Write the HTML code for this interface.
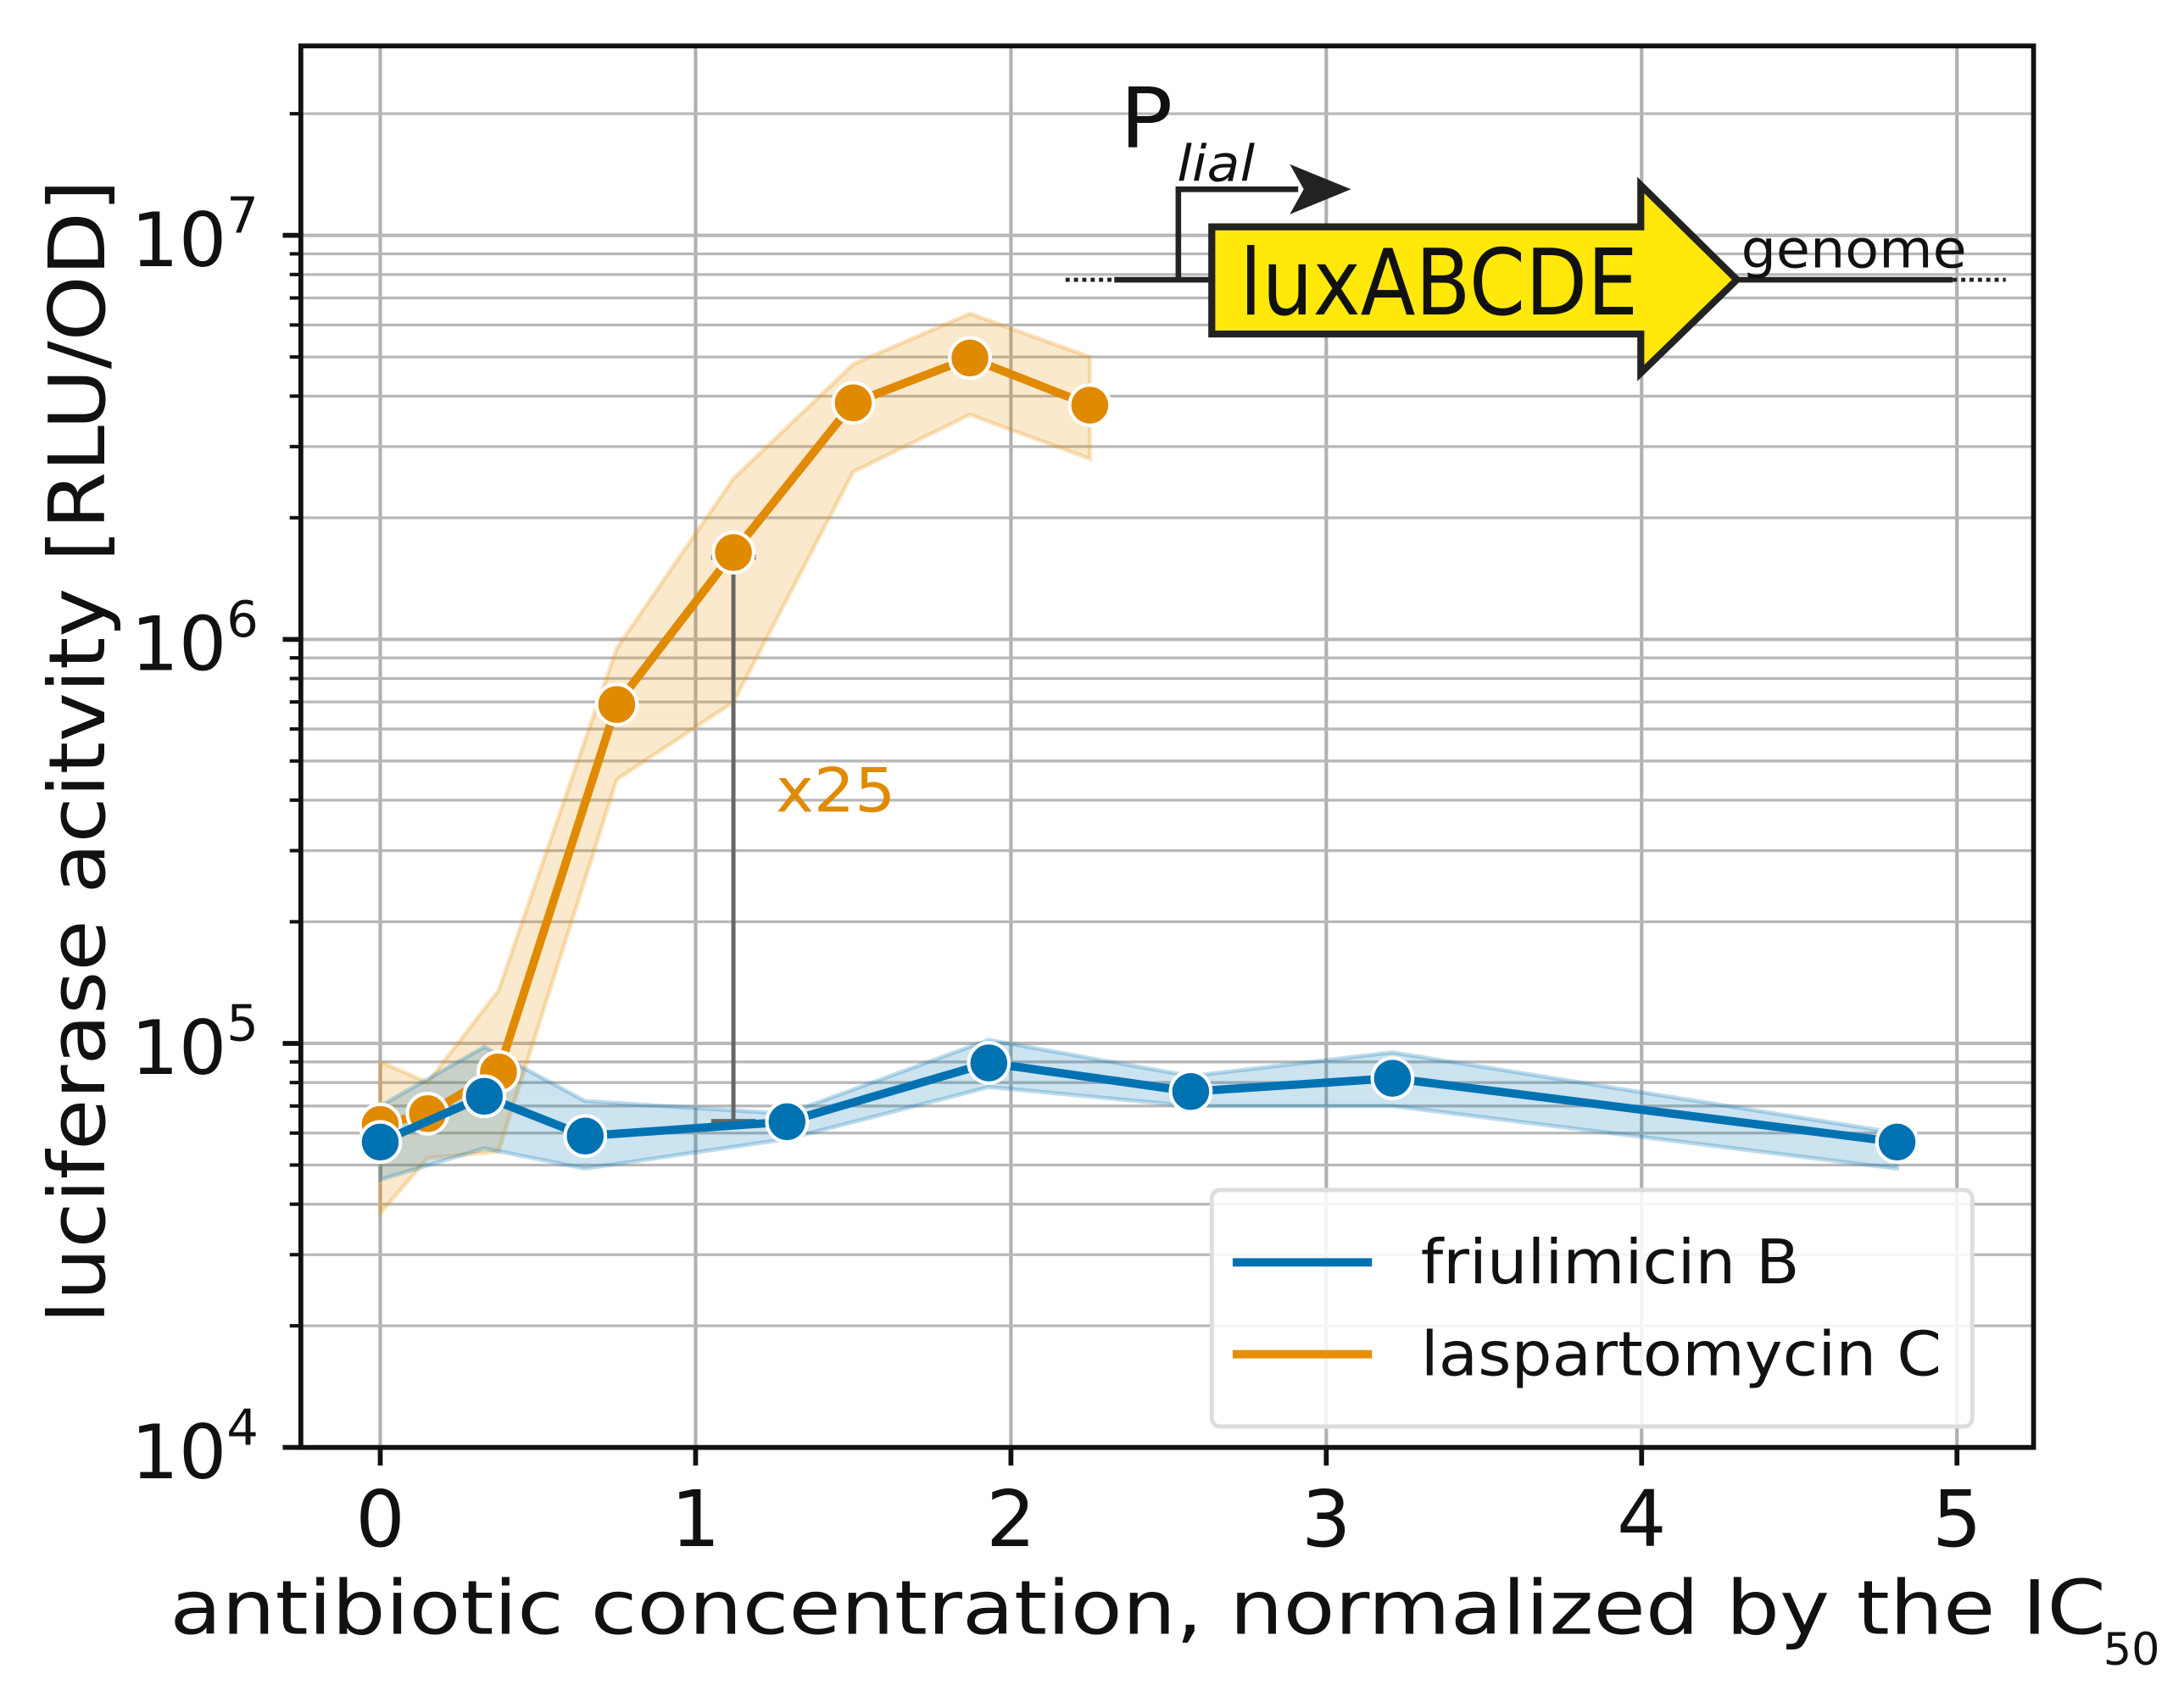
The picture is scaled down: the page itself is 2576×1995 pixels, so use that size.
<!DOCTYPE html>
<html><head><meta charset="utf-8"><style>
html,body{margin:0;padding:0;background:#fff;}
svg{display:block;font-family:"DejaVu Sans","Liberation Sans",sans-serif;}
</style></head><body>
<svg id="chart" width="2576" height="1995" viewBox="0 0 1568 1215" preserveAspectRatio="none" xmlns="http://www.w3.org/2000/svg">
<g id="grid"></g>
<g id="bands"></g>
<g id="annot"></g>
<g id="series"></g>
<g id="axes"></g>
<g>
  <line x1="765" y1="201" x2="800" y2="201" stroke="#222" stroke-width="3" stroke-dasharray="3,3"/>
  <line x1="800" y1="201" x2="880" y2="201" stroke="#222" stroke-width="4"/>
  <line x1="1240" y1="201" x2="1402" y2="201" stroke="#222" stroke-width="4"/>
  <line x1="1402" y1="201" x2="1440" y2="201" stroke="#222" stroke-width="3" stroke-dasharray="3,3"/>
  <polyline points="846,201 846,136 932,136" fill="none" stroke="#222" stroke-width="4"/>
  <polygon points="926,118 970,136 926,154 936,136" fill="#222"/>
  <polygon points="870,163 1178,163 1178,133 1247,201 1178,268 1178,240 870,240" fill="#ffe80a" stroke="#222" stroke-width="5"/>
  <text x="890" y="226" font-size="66" textLength="286" lengthAdjust="spacingAndGlyphs" fill="#111">luxABCDE</text>
  <text x="804" y="106" font-size="60" textLength="38" lengthAdjust="spacingAndGlyphs" fill="#111">P</text>
  <text x="845" y="130" font-size="36" font-style="italic" textLength="56" lengthAdjust="spacingAndGlyphs" fill="#111">lial</text>
  <text x="1250" y="192" font-size="38" textLength="162" lengthAdjust="spacingAndGlyphs" fill="#111">genome</text>
</g>
<g>
  <rect x="870" y="855" width="546" height="170" rx="6" fill="#fff" fill-opacity="0.85" stroke="#ddd" stroke-width="3"/>
  <line x1="885" y1="907" x2="985" y2="907" stroke="#0072b2" stroke-width="6"/>
  <text x="1020" y="922" font-size="44" textLength="272" lengthAdjust="spacingAndGlyphs" fill="#111">friulimicin B</text>
  <line x1="885" y1="973" x2="985" y2="973" stroke="#e69000" stroke-width="6"/>
  <text x="1020" y="988" font-size="44" textLength="374" lengthAdjust="spacingAndGlyphs" fill="#111">laspartomycin C</text>
</g>
<text x="122" y="1174" font-size="54" textLength="1390" lengthAdjust="spacingAndGlyphs" fill="#111">antibiotic concentration, normalized by the IC</text>
<text x="1510" y="1196" font-size="32" fill="#111">50</text>
<text transform="translate(75,540) rotate(-90)" text-anchor="middle" font-size="56" textLength="822" lengthAdjust="spacingAndGlyphs" fill="#111">luciferase acitvity [RLU/OD]</text>
</svg>
<script>
const xTicks=[0,1,2,3,4,5];
const yDecades=[4,5,6,7];
const blueX=[0,0.33,0.65,1.29,1.93,2.57,3.21,4.81];
const blueY=[5.7e4,7.4e4,5.9e4,6.4e4,8.95e4,7.6e4,8.2e4,5.7e4];
const blueLo=[4.6e4,5.5e4,4.9e4,5.8e4,7.8e4,7.0e4,7.0e4,4.9e4];
const blueHi=[7.0e4,9.8e4,7.2e4,6.7e4,1.02e5,8.3e4,9.5e4,6.0e4];
const orangeX=[0,0.15,0.375,0.75,1.12,1.5,1.87,2.25];
const orangeY=[6.3e4,6.7e4,8.5e4,6.9e5,1.64e6,3.85e6,4.97e6,3.8e6];
const orangeLo=[3.8e4,5.2e4,5.4e4,4.5e5,7.0e5,2.6e6,3.6e6,2.8e6];
const orangeHi=[9.0e4,8.0e4,1.35e5,9.5e5,2.5e6,4.8e6,6.4e6,5.0e6];
const annX=1.12, annLo=6.4e4, annHi=1.6e6;

const NS="http://www.w3.org/2000/svg";
const L=216,R=1460,T=33,B=1040;
const X=v=>273+v*226.4;
const Y=v=>1040-(Math.log10(v)-4)*290.3;
function mk(tag,attrs,parent){const e=document.createElementNS(NS,tag);for(const k in attrs)e.setAttribute(k,attrs[k]);parent.appendChild(e);return e;}
const grid=document.getElementById('grid'),axes=document.getElementById('axes'),bands=document.getElementById('bands'),series=document.getElementById('series'),annot=document.getElementById('annot');
xTicks.forEach(t=>{
  const g=mk('line',{x1:X(t),x2:X(t),y1:T,y2:B,stroke:'#b0b0b0','stroke-width':2.5},grid);
  
  
  mk('line',{x1:X(t),x2:X(t),y1:B,y2:B+13,stroke:'#111','stroke-width':3.5},axes);
  const tx=mk('text',{x:X(t),y:B+71,'font-size':56,'text-anchor':'middle',fill:'#111'},axes);
  tx.textContent=t;
  
  
});
for(let d=4;d<=7;d++){for(let m=1;m<=9;m++){const v=m*Math.pow(10,d);const y=Y(v);if(y<T)continue;
  const g=mk('line',{x1:L,x2:R,y1:y,y2:y,stroke:'#b8b8b8','stroke-width':m==1?2.5:2},grid);
  
  
  mk('line',{x1:L-(m==1?13:8),x2:L,y1:y,y2:y,stroke:'#111','stroke-width':m==1?3.5:2.5},axes);
}}
yDecades.forEach(d=>{
  const tx=mk('text',{x:94,y:Y(Math.pow(10,d))+22,'font-size':54,fill:'#111'},axes);
  tx.innerHTML='10<tspan dy="-24" font-size="36">'+d+'</tspan>';
  
  
});
const frame=mk('rect',{x:L,y:T,width:R-L,height:B-T,fill:'none',stroke:'#111','stroke-width':3.5},axes);


function band(xs,lo,hi,color,name){
  let p=xs.map((x,i)=>X(x)+','+Y(hi[i]));
  p=p.concat(xs.map((x,i)=>X(x)+','+Y(lo[i])).reverse());
  const e=mk('polygon',{points:p.join(' '),fill:color,'fill-opacity':0.2,stroke:color,'stroke-opacity':0.25,'stroke-width':3},bands);
  
  
}
band(orangeX,orangeLo,orangeHi,'#e69000','laspartomycin-ci-band');
band(blueX,blueLo,blueHi,'#0072b2','friulimicin-ci-band');
function line(xs,ys,color,name){
  const g=mk('g',{},series);
  
  
  const pl=mk('polyline',{points:xs.map((x,i)=>X(x)+','+Y(ys[i])).join(' '),fill:'none',stroke:color,'stroke-width':6},g);
  
  
  xs.forEach((x,i)=>{
    const c=mk('circle',{cx:X(x),cy:Y(ys[i]),r:14.5,fill:color,stroke:'#fff','stroke-width':2.5},g);
    
    
  });
}
line(orangeX,orangeY,'#e08a00','laspartomycin-series');
line(blueX,blueY,'#0072b2','friulimicin-series');
const ax=X(annX);
mk('line',{x1:ax,x2:ax,y1:Y(annHi),y2:Y(annLo),stroke:'#666','stroke-width':3},annot);
mk('line',{x1:ax-16,x2:ax+16,y1:Y(annHi),y2:Y(annHi),stroke:'#666','stroke-width':4},annot);
mk('line',{x1:ax-16,x2:ax+16,y1:Y(annLo),y2:Y(annLo),stroke:'#666','stroke-width':4},annot);
const at=mk('text',{x:557,y:583,'font-size':44,fill:'#e08a00',textLength:86,lengthAdjust:'spacingAndGlyphs'},annot);
at.textContent='x25';


</script>
</body></html>
